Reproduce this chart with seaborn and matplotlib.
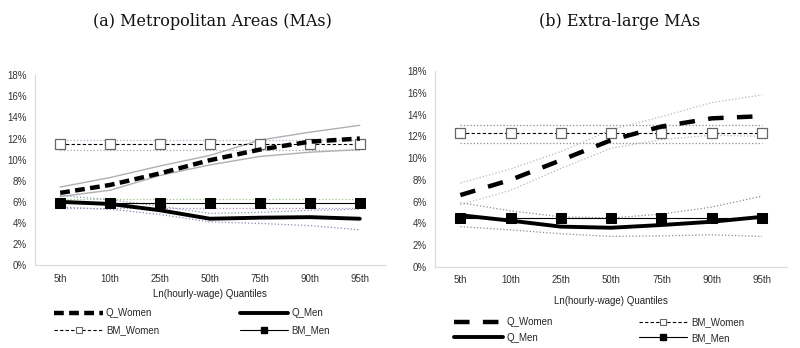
import matplotlib
matplotlib.use("Agg")
import matplotlib.pyplot as plt
from matplotlib.lines import Line2D
import seaborn as sns
import pandas as pd
import numpy as np

quantiles = ["5th", "10th", "25th", "50th", "75th", "90th", "95th"]

# Panel (a) Metropolitan Areas (values in %)
a_q_women = [6.85, 7.6, 8.7, 9.95, 10.95, 11.7, 12.0]
a_q_women_hi = [7.4, 8.3, 9.4, 10.4, 11.85, 12.6, 13.25]
a_q_women_lo = [6.5, 7.1, 8.5, 9.5, 10.3, 10.7, 10.95]
a_q_men = [6.0, 5.8, 5.2, 4.4, 4.5, 4.55, 4.4]
a_q_men_hi = [6.6, 6.2, 5.6, 4.9, 5.0, 5.2, 5.3]
a_q_men_lo = [5.5, 5.3, 4.8, 4.1, 3.95, 3.75, 3.35]
a_bm_women = 11.45
a_bm_women_hi = 11.9
a_bm_women_lo = 10.95
a_bm_men = 5.85
a_bm_men_hi = 6.3
a_bm_men_lo = 5.4

# Panel (b) Extra-large MAs (values in %)
b_q_women = [6.6, 8.0, 9.8, 11.65, 12.9, 13.65, 13.85]
b_q_women_hi = [7.7, 9.0, 10.6, 12.6, 13.8, 15.1, 15.8]
b_q_women_lo = [5.7, 7.05, 9.05, 10.9, 11.7, 12.1, 12.0]
b_q_men = [4.75, 4.25, 3.7, 3.6, 3.85, 4.15, 4.6]
b_q_men_hi = [5.9, 5.15, 4.6, 4.5, 4.85, 5.5, 6.5]
b_q_men_lo = [3.7, 3.4, 3.05, 2.8, 2.85, 2.95, 2.8]
b_bm_women = 12.27
b_bm_women_hi = 13.0
b_bm_women_lo = 11.35
b_bm_men = 4.5

yticks = [0, 2, 4, 6, 8, 10, 12, 14, 16, 18]

sns.set_theme(style="white")
plt.rcParams['font.family'] = ['Liberation Sans', 'DejaVu Sans']

fig = plt.figure(figsize=(8.0, 3.48), dpi=100)
pos = np.arange(len(quantiles))

def line(ax, vals, **kw):
    if np.isscalar(vals):
        vals = [vals] * len(quantiles)
    df = pd.DataFrame({"x": pos, "y": vals})
    sns.lineplot(data=df, x="x", y="y", ax=ax, legend=False, **kw)

def style_axes(ax):
    ax.set_xlim(-0.5, 6.5)
    ax.set_ylim(0, 18)
    ax.set_yticks(yticks)
    ax.set_yticklabels([f"{t}%" for t in yticks], fontsize=7, color="#333333")
    ax.set_xticks(pos)
    ax.set_xticklabels(quantiles, fontsize=7, color="#333333")
    ax.set_ylabel("")
    for s in ["top", "right"]:
        ax.spines[s].set_visible(False)
    for s in ["left", "bottom"]:
        ax.spines[s].set_color("#d9d9d9")
        ax.spines[s].set_linewidth(0.8)
    ax.tick_params(axis="both", length=0, pad=6)

MS = 6.5

# ---------- Panel (a)
ax1 = fig.add_axes([0.044, 0.238, 0.437, 0.546])
line(ax1, a_bm_women_hi, color="#9fb3c8", lw=0.9, linestyle=":")
line(ax1, a_bm_women_lo, color="#a8a8a8", lw=0.9, linestyle=":")
line(ax1, a_bm_men_hi, color="#9cc48a", lw=0.9, linestyle=":")
line(ax1, a_bm_men_lo, color="#b48cc8", lw=0.9, linestyle=":")
line(ax1, a_q_women_hi, color="#b0b0b0", lw=1.0)
line(ax1, a_q_women_lo, color="#b0b0b0", lw=1.0)
line(ax1, a_q_men_hi, color="#8a9ab8", lw=0.9, linestyle=":")
line(ax1, a_q_men_lo, color="#7f8fb0", lw=0.9, linestyle=":")
line(ax1, a_bm_women, color="black", lw=0.8, linestyle=(0, (3, 2)),
     marker="s", markersize=MS, markerfacecolor="white", markeredgecolor="#666666", markeredgewidth=0.9)
line(ax1, a_bm_men, color="black", lw=0.8, marker="s", markersize=MS,
     markerfacecolor="black", markeredgecolor="black")
line(ax1, a_q_women, color="black", lw=3.2, linestyle=(0, (2.2, 1.2)))
line(ax1, a_q_men, color="black", lw=2.8)
style_axes(ax1)
ax1.set_xlabel("Ln(hourly-wage) Quantiles", fontsize=7, color="#222222", labelpad=4)
fig.text(0.266, 0.938, "(a) Metropolitan Areas (MAs)", ha="center", va="center",
         fontsize=11.5, family="DejaVu Serif", color="#111111")

h_qw_a = Line2D([], [], color="black", lw=3.2, linestyle=(0, (2.2, 1.2)))
h_qm = Line2D([], [], color="black", lw=2.8)
h_bw = Line2D([], [], color="black", lw=0.8, linestyle=(0, (3, 2)), marker="s", markersize=4.5,
              markerfacecolor="white", markeredgecolor="#666666", markeredgewidth=0.8)
h_bm = Line2D([], [], color="black", lw=0.8, marker="s", markersize=4.5,
              markerfacecolor="black", markeredgecolor="black")
fig.legend([h_qw_a, h_bw, h_qm, h_bm], ["Q_Women", "BM_Women", "Q_Men", "BM_Men"],
           ncol=2, loc="center left", bbox_to_anchor=(0.068, 0.075), frameon=False,
           fontsize=7, handlelength=5.0, handletextpad=0.3, columnspacing=8.3,
           labelspacing=0.75, borderaxespad=0, borderpad=0)

# ---------- Panel (b)
ax2 = fig.add_axes([0.544, 0.233, 0.440, 0.563])
line(ax2, b_bm_women_hi, color="#8c8c8c", lw=0.9, linestyle=":")
line(ax2, b_bm_women_lo, color="#8c8c8c", lw=0.9, linestyle=":")
line(ax2, b_q_women_hi, color="#b8b8b8", lw=0.9, linestyle=":")
line(ax2, b_q_women_lo, color="#b8b8b8", lw=0.9, linestyle=":")
line(ax2, b_q_men_hi, color="#8c8c8c", lw=0.9, linestyle=":")
line(ax2, b_q_men_lo, color="#8c8c8c", lw=0.9, linestyle=":")
line(ax2, b_bm_women, color="black", lw=0.8, linestyle=(0, (3, 2)),
     marker="s", markersize=MS, markerfacecolor="white", markeredgecolor="#666666", markeredgewidth=0.9)
line(ax2, b_bm_men, color="black", lw=0.8, marker="s", markersize=MS,
     markerfacecolor="black", markeredgecolor="black")
line(ax2, b_q_women, color="black", lw=3.2, linestyle=(0, (3.5, 3.0)))
line(ax2, b_q_men, color="black", lw=2.8)
style_axes(ax2)
ax2.set_xlabel("Ln(hourly-wage) Quantiles", fontsize=7, color="#222222", labelpad=8)
fig.text(0.775, 0.938, "(b) Extra-large MAs", ha="center", va="center",
         fontsize=11.5, family="DejaVu Serif", color="#111111")

h_qw_b = Line2D([], [], color="black", lw=3.2, linestyle=(0, (3.5, 3.0)))
fig.legend([h_qw_b, h_qm, h_bw, h_bm], ["Q_Women", "Q_Men", "BM_Women", "BM_Men"],
           ncol=2, loc="center left", bbox_to_anchor=(0.568, 0.052), frameon=False,
           fontsize=7, handlelength=5.0, handletextpad=0.4, columnspacing=8.8,
           labelspacing=0.6, borderaxespad=0, borderpad=0)

fig.savefig("out.png", dpi=100, facecolor="white")
